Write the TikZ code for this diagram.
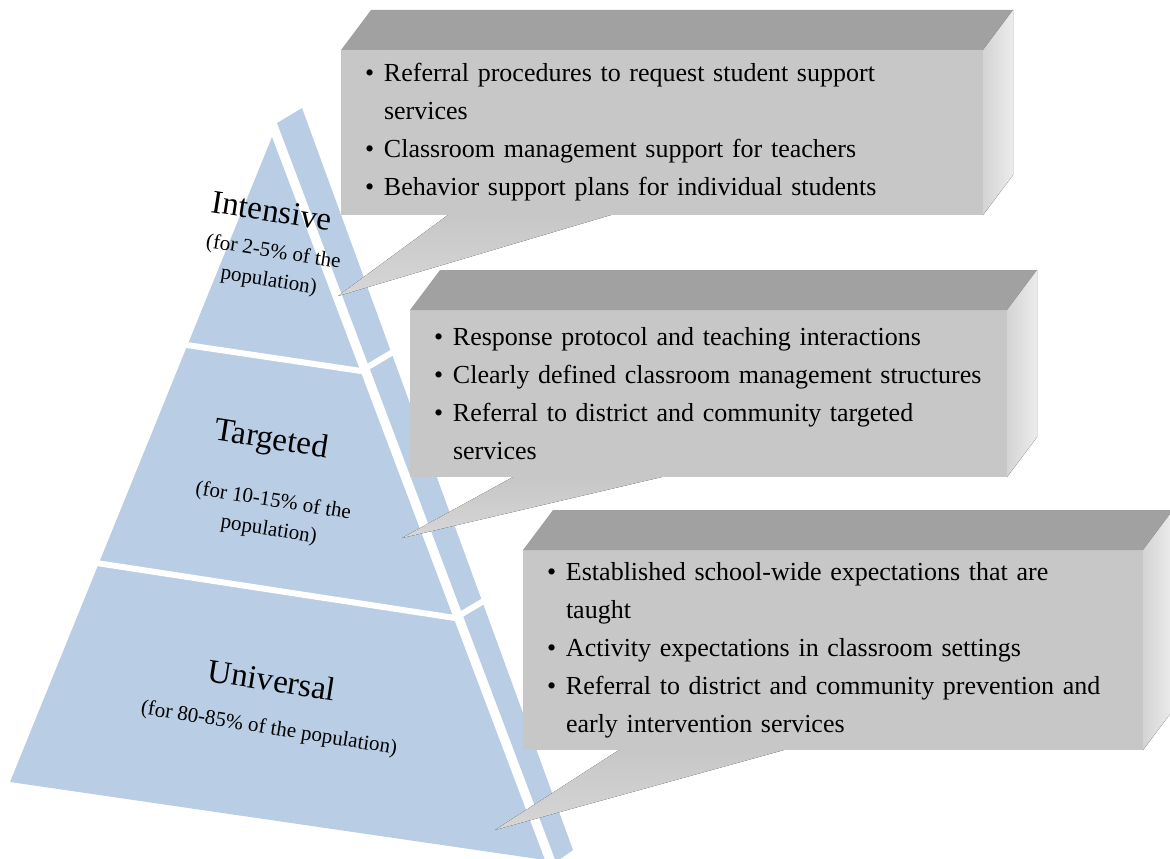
\documentclass[tikz,border=0pt]{standalone}
\usepackage{fontspec}
\setmainfont{Liberation Serif}

\definecolor{tierblue}{RGB}{185,205,229}
\definecolor{boxfront}{RGB}{199,199,199}
\definecolor{boxtop}{RGB}{161,161,161}
\definecolor{boxside}{RGB}{212,212,212}
\definecolor{boxsidelight}{RGB}{236,236,236}
\definecolor{boxtip}{RGB}{214,214,214}

\newcommand{\bul}{\makebox[19pt][l]{\textbullet}}
\newcommand{\cont}{\hspace*{19pt}}

\begin{document}
\begin{tikzpicture}[x=1pt,y=-1pt,
      tier/.style={fill=tierblue},
      sepline/.style={draw=white,line width=6pt},
      infobox/.style={fill=boxfront,anchor=north west,outer sep=0pt,inner xsep=24pt,
        inner ysep=0pt,align=left,font=\fontsize{26}{38}\selectfont},
      topface/.style={fill=boxtop},
      sideface/.style={left color=boxside,right color=boxsidelight},
      tail/.style={top color=boxfront,bottom color=boxtip},
      tiername/.style={rotate=-9,inner sep=0pt,font=\fontsize{33}{36}\selectfont},
      tiernote/.style={rotate=-9,inner sep=0pt,align=center,font=\fontsize{21}{29}\selectfont}]
 \clip (0,0) rectangle (1170,859);

 % pyramid
 \coordinate (apex) at (272,137);
 \coordinate (botl) at (10,782);
 \coordinate (botr) at (545,860);
 \coordinate (st1) at (277,123);
 \coordinate (st2) at (302,108);
 \coordinate (st3) at (573,850);
 \coordinate (st4) at (556,862);
 \fill[tier] (apex) -- (botl) -- (botr) -- cycle;
 \fill[tier] (st1) -- (st2) -- (st3) -- (st4) -- cycle;
 \draw[sepline] (180,344) -- (361,371) -- (398,349);
 \draw[sepline] (90,562) -- (455,618) -- (492,596);

 \node[tiername] (int) at (272,211) {Intensive};
 \node[tiernote] (intnote) at (271,267) {(for 2-5\% of the\\population)};
 \node[tiername] (tgt) at (271,441) {Targeted};
 \node[tiernote] (tgtnote) at (271,516) {(for 10-15\% of the\\population)};
 \node[tiername] (uni) at (272,680) {Universal};
 \node[tiernote] (uninote) at (269,729) {(for 80-85\% of the population)};

 % callout boxes
 \coordinate (tip1) at (338,296);
 \coordinate (tip2) at (402,538);
 \coordinate (tip3) at (495,830);

 \node[infobox,text width=594pt,minimum height=165pt] (box1) at (341,50) {%
  \bul Referral procedures to request student support\\
  \cont services\\
  \bul Classroom management support for teachers\\
  \bul Behavior support plans for individual students};
 \fill[topface] (box1.north west) -- ++(30,-40) -- ([shift={(30,-40)}]box1.north east) -- (box1.north east) -- cycle;
 \fill[sideface] (box1.north east) -- ++(30,-40) -- ([shift={(30,-40)}]box1.south east) -- (box1.south east) -- cycle;
 \fill[tail] ([xshift=107pt]box1.south west) -- ([xshift=270pt]box1.south west) -- (tip1) -- cycle;

 \node[infobox,text width=549pt,minimum height=167pt] (box2) at (410,310) {%
  \bul Response protocol and teaching interactions\\
  \bul Clearly defined classroom management structures\\
  \bul Referral to district and community targeted\\
  \cont services};
 \fill[topface] (box2.north west) -- ++(30,-40) -- ([shift={(30,-40)}]box2.north east) -- (box2.north east) -- cycle;
 \fill[sideface] (box2.north east) -- ++(30,-40) -- ([shift={(30,-40)}]box2.south east) -- (box2.south east) -- cycle;
 \fill[tail] ([xshift=103pt]box2.south west) -- ([xshift=252pt]box2.south west) -- (tip2) -- cycle;

 \node[infobox,text width=572pt,minimum height=200pt] (box3) at (523,550) {%
  \bul Established school-wide expectations that are\\
  \cont taught\\
  \bul Activity expectations in classroom settings\\
  \bul Referral to district and community prevention and\\
  \cont early intervention services};
 \fill[topface] (box3.north west) -- ++(30,-40) -- ([shift={(30,-40)}]box3.north east) -- (box3.north east) -- cycle;
 \fill[sideface] (box3.north east) -- ++(30,-40) -- ([shift={(30,-40)}]box3.south east) -- (box3.south east) -- cycle;
 \fill[tail] ([xshift=96pt]box3.south west) -- ([xshift=261pt]box3.south west) -- (tip3) -- cycle;
\end{tikzpicture}
\end{document}
